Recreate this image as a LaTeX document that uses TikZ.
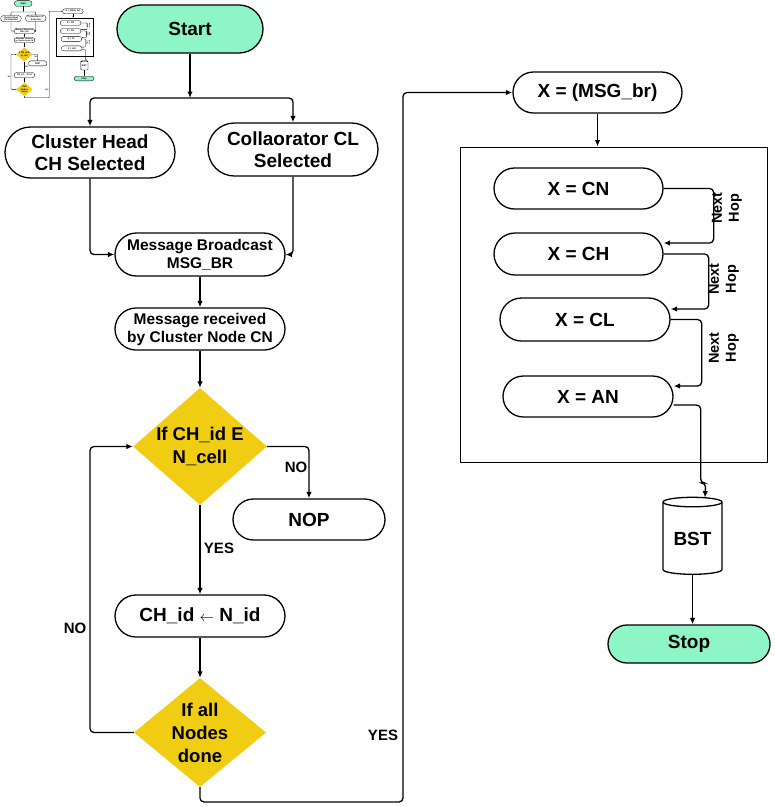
\documentclass[tikz,border=0pt]{standalone}
\usepackage{fontspec}
\setmainfont{Liberation Sans}
\usetikzlibrary{shapes.geometric,shapes.misc,arrows.meta,calc}

\definecolor{startgreen}{RGB}{142,246,198}
\definecolor{decgold}{RGB}{240,205,18}

\newcommand\flowlw{1.3pt}
\newcommand\boxlw{1pt}
\newcommand\tiplen{6.5pt}
\newcommand\tipwid{5.5pt}
\newcommand\flowrc{4pt}

\tikzset{
  pill/.style={rounded rectangle, draw, line width=\flowlw, align=center, inner sep=0pt,
    font=\fontsize{19}{22}\selectfont\bfseries},
  msgpill/.style={pill, font=\fontsize{15.5}{18}\selectfont\bfseries},
  decide/.style={diamond, fill=decgold, aspect=1.2, inner sep=0pt, align=center,
    font=\fontsize{18.5}{23}\selectfont\bfseries},
  store/.style={cylinder, shape border rotate=90, draw, line width=\flowlw, aspect=0.25,
    inner sep=0pt, font=\fontsize{19}{22}\selectfont\bfseries},
  lbl/.style={font=\fontsize{15}{17}\selectfont\bfseries},
  hoplbl/.style={rotate=90, align=center, font=\fontsize{14.5}{17}\selectfont\bfseries},
  arr/.style={-{Latex[length=\tiplen,width=\tipwid]}, line width=\flowlw, rounded corners=\flowrc},
  line/.style={line width=\flowlw, rounded corners=\flowrc}
}

\newcommand\flowdiagram{%
  % left column
  \node[pill, fill=startgreen, minimum width=146pt, minimum height=48pt] (start) at (190,29) {Start};
  \coordinate (split) at (190,98);
  \node[pill, minimum width=170pt, minimum height=51pt] (chsel) at (90,152.5) {Cluster Head\\CH Selected};
  \node[pill, minimum width=170pt, minimum height=53pt] (clsel) at (293,149.5) {Collaorator CL\\Selected};
  \node[msgpill, minimum width=170pt, minimum height=43pt] (msgbr) at (200,254.5) {Message Broadcast\\MSG\_BR};
  \node[msgpill, minimum width=170pt, minimum height=42pt] (recv) at (200,329) {Message received\\by Cluster Node CN};
  \node[decide, minimum width=133pt, minimum height=117pt] (d1) at (200,446.5) {If CH\_id E\\N\_cell};
  \node[pill, minimum width=152pt, minimum height=41pt] (nop) at (309,519.5) {NOP};
  \node[pill, minimum width=170pt, minimum height=42pt] (chid) at (200,616) {CH\_id $\scriptstyle\leftarrow$ N\_id};
  \node[decide, minimum width=132pt, minimum height=109pt] (d2) at (200,732.5) {If all\\Nodes\\done};
  \coordinate (noturn) at (90,600);
  \coordinate (yesturn) at (403,802);
  % right column
  \node[pill, minimum width=169pt, minimum height=41pt] (msgx) at (597.5,92.5) {X = (MSG\_br)};
  \node[draw, line width=\boxlw, minimum width=307pt, minimum height=315pt] (hopbox) at (613.5,304.5) {};
  \node[pill, minimum width=169pt, minimum height=41pt] (cn) at (578.5,188.5) {X = CN};
  \node[pill, minimum width=169pt, minimum height=42pt] (ch) at (578.5,254) {X = CH};
  \node[pill, minimum width=170pt, minimum height=43pt] (cl) at (585,319.5) {X = CL};
  \node[pill, minimum width=170pt, minimum height=41pt] (an) at (588,396.5) {X = AN};
  \node[store, minimum width=59pt, minimum height=77pt] (bst) at (692.5,538.5) {BST};
  \node[pill, fill=startgreen, minimum width=162pt, minimum height=38pt] (stop) at (689,644) {Stop};
  % labels
  \node[lbl] (nolbl) at (296,467) {NO};
  \node[lbl] (yeslbl) at (219,548) {YES};
  \node[lbl] (backlbl) at (75,628) {NO};
  \node[lbl] (donelbl) at (383,735) {YES};
  \node[hoplbl] (hop1) at (727,208) {Next\\Hop};
  \node[hoplbl] (hop2) at (724,279) {Next\\Hop};
  \node[hoplbl] (hop3) at (724,348) {Next\\Hop};
  % connectors
  \draw[arr] (start.south) -- (split);
  \draw[arr] (split) -| (chsel.north);
  \draw[arr] (split) -| (clsel.north);
  \draw[arr] (chsel.south) |- (msgbr.west);
  \draw[arr] (clsel.south) |- (msgbr.east);
  \draw[arr] (msgbr.south) -- (recv.north);
  \draw[arr] (recv.south) -- (d1.north);
  \draw[arr] (d1.east) -| (nop.north);
  \draw[arr] (d1.south) -- (chid.north);
  \draw[arr] (chid.south) -- (d2.north);
  \draw[arr] (d2.west) -| (noturn) |- (d1.west);
  \draw[arr] (d2.south) |- (yesturn) |- (msgx.west);
  \draw[arr] (msgx.south) -- (msgx.south |- hopbox.north);
  \draw[arr] (cn.east) -- ++(50,0) |- ($(ch.east)+(0,-11)$);
  \draw[arr] (ch.east) -- ++(45,0) |- ($(cl.east)+(0,-10.5)$);
  \draw[arr] (cl.east) -- ++(31,0) |- ($(an.east)+(0,-10.5)$);
  \draw[arr] ($(an.east)+(0,8.5)$) -- ++(27,0) -- ++(0,78) -- ++(5,0) -- ($(bst.north)+(12.5,1)$);
  \draw[arr] (bst.south) -- (bst.south |- stop.north);
}

\begin{document}
\begin{tikzpicture}[x=1pt,y=-1pt]
  \path[fill=white, use as bounding box] (0,0) rectangle (775,807);
  % small copy in the corner
  \begin{scope}[scale=0.122, transform shape, name prefix=mini-]
    \renewcommand\flowlw{0.3pt}
    \renewcommand\boxlw{0.25pt}
    \renewcommand\tiplen{1.2pt}
    \renewcommand\tipwid{1pt}
    \renewcommand\flowrc{0.6pt}
    \flowdiagram
  \end{scope}
  \flowdiagram
\end{tikzpicture}
\end{document}
